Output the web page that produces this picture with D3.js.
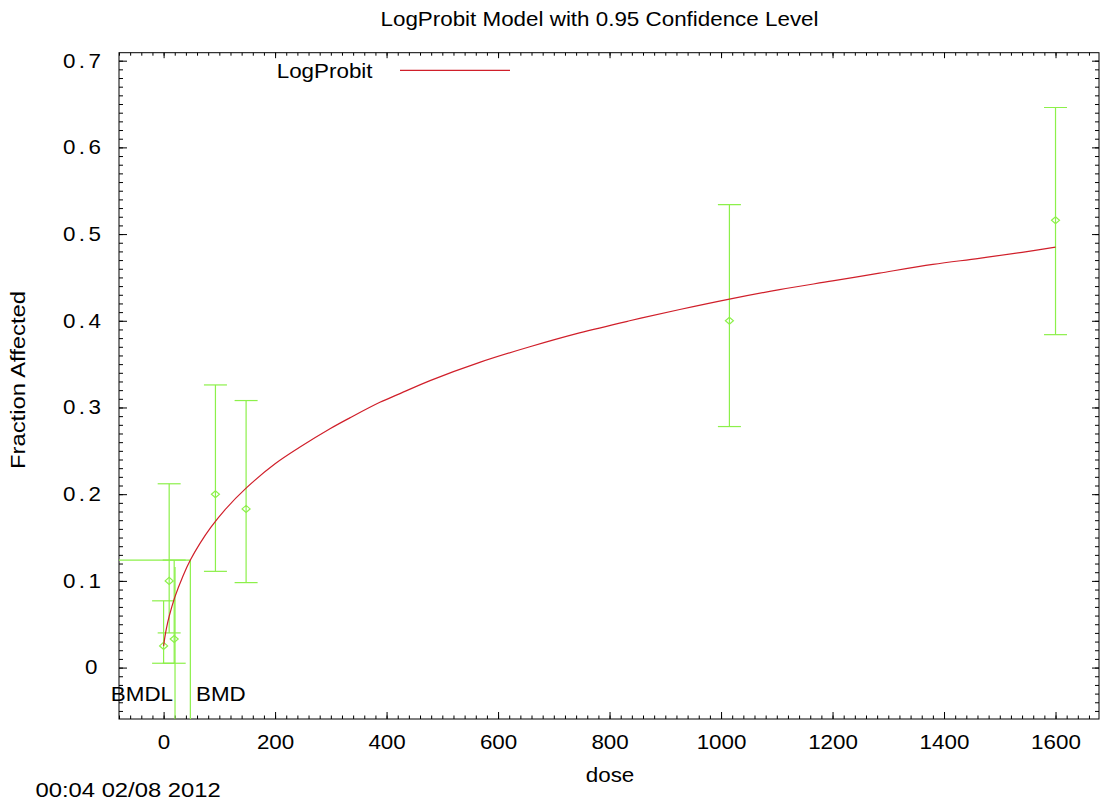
<!DOCTYPE html>
<html>
<head>
<meta charset="utf-8">
<script src="https://cdn.jsdelivr.net/npm/d3@7"></script>
<style>
  html, body { margin: 0; padding: 0; background: #fff; }
  svg { display: block; font-family: "Liberation Sans", Arial, sans-serif; }
</style>
</head>
<body>
<svg id="chart" width="1100" height="802"></svg>
<script>
// ---- data ----
const doses     = [0, 10, 19, 93, 148, 1015, 1600];
const fractions = [0.025, 0.1, 0.033, 0.2, 0.183, 0.4, 0.516];
const lowerCL   = [0.005, 0.04, 0.005, 0.111, 0.098, 0.278, 0.384];
const upperCL   = [0.077, 0.212, 0.124, 0.326, 0.308, 0.534, 0.646];

const curveDose = [0, 2, 5, 10, 20, 35, 48, 65, 85, 110, 148, 200, 244, 300, 334, 388, 424, 478, 567, 657, 746, 836, 926, 1015, 1105, 1200, 1284, 1380, 1463, 1540, 1600];
const curveFrac = [0.025, 0.034, 0.045, 0.059, 0.081, 0.106, 0.124, 0.143, 0.162, 0.182, 0.207, 0.235, 0.254, 0.276, 0.288, 0.306, 0.316, 0.331, 0.352, 0.370, 0.386, 0.400, 0.413, 0.425, 0.436, 0.446, 0.455, 0.465, 0.472, 0.479, 0.485];

const bmd = 48;
const bmdl = 20.5;
const bmrLevel = 0.124;
const bmdlTop = 0.116;

const xMajorTicks = [0, 200, 400, 600, 800, 1000, 1200, 1400, 1600];
const yMajorTicks = [0, 0.1, 0.2, 0.3, 0.4, 0.5, 0.6, 0.7];

const titleText = "LogProbit Model with 0.95 Confidence Level";
const xLabel = "dose";
const yLabel = "Fraction Affected";
const legendLabel = "LogProbit";
const stamp = "00:04 02/08 2012";

// ---- layout ----
const L = 119, R = 1099, T = 52.7, B = 719;
const SX = 1.12;
const FS = 20;
const red = "#d01f2a";
const green = "#8cf04a";

const svg = d3.select("#chart");
const x = d3.scaleLinear().domain([-80, 1678]).range([L, R]);
const y = d3.scaleLinear().domain([-0.0593, 0.7092]).range([B, T]);

const xMinor = d3.range(-80, 1680, 20).filter(v => v >= -80 && v <= 1678);
const yMinor = d3.range(-5, 71).map(v => v / 100);

function stretchText(sel) {
  sel.attr("transform", `scale(${SX},1)`);
}

svg.append("defs").append("clipPath").attr("id", "clip")
  .append("rect").attr("x", L).attr("y", T).attr("width", R - L).attr("height", B - T);

function tickAxis(axisFn, scale, vals, size, transform) {
  const g = svg.append("g").attr("transform", transform)
    .call(axisFn(scale).tickValues(vals).tickSize(size).tickFormat(""));
  g.select(".domain").remove();
  g.selectAll("line").attr("stroke", "#000").attr("stroke-width", 1);
  return g;
}
tickAxis(d3.axisBottom, x, xMinor, -3.5, `translate(0,${B})`);
tickAxis(d3.axisTop, x, xMinor, -3, `translate(0,${T})`);
tickAxis(d3.axisLeft, y, yMinor, -4, `translate(${L},0)`);
tickAxis(d3.axisRight, y, yMinor, -4, `translate(${R},0)`);
tickAxis(d3.axisTop, x, xMajorTicks, -5.5, `translate(0,${T})`);
tickAxis(d3.axisRight, y, yMajorTicks, -7, `translate(${R},0)`);

const xAxisG = svg.append("g").attr("transform", `translate(0,${B})`)
  .call(d3.axisBottom(x).tickValues(xMajorTicks).tickSize(-7).tickPadding(16).tickFormat(d3.format("d")));
xAxisG.select(".domain").remove();
xAxisG.selectAll("line").attr("stroke", "#000");
xAxisG.selectAll("text").attr("font-size", FS).attr("fill", "#000")
  .attr("font-family", "Liberation Sans, Arial, sans-serif").call(stretchText);

const yFmt = d => d === 0 ? "0" : d3.format(".1f")(d);
const yAxisG = svg.append("g").attr("transform", `translate(${L},0)`)
  .call(d3.axisLeft(y).tickValues(yMajorTicks).tickSize(-8).tickPadding(11).tickFormat(yFmt));
yAxisG.select(".domain").remove();
yAxisG.selectAll("line").attr("stroke", "#000");
yAxisG.selectAll("text").attr("font-size", FS).attr("fill", "#000")
  .attr("font-family", "Liberation Sans, Arial, sans-serif")
  .attr("text-anchor", "start")
  .attr("letter-spacing", 3)
  .attr("x", d => (96 - 11 * yFmt(d).length - L) / SX)
  .call(stretchText);

svg.append("rect").attr("x", L).attr("y", T).attr("width", R - L).attr("height", B - T)
  .attr("fill", "none").attr("stroke", "#000").attr("stroke-width", 1);

const plot = svg.append("g").attr("clip-path", "url(#clip)");

plot.append("line").attr("x1", L).attr("x2", x(bmd)).attr("y1", y(bmrLevel)).attr("y2", y(bmrLevel))
  .attr("stroke", green).attr("stroke-width", 1.2);
plot.append("line").attr("x1", x(bmd)).attr("x2", x(bmd)).attr("y1", y(bmrLevel)).attr("y2", B)
  .attr("stroke", green).attr("stroke-width", 1.2);
plot.append("line").attr("x1", x(bmdl)).attr("x2", x(bmdl)).attr("y1", y(bmdlTop)).attr("y2", B)
  .attr("stroke", green).attr("stroke-width", 1.2);

const pts = doses.map((d, i) => ({ d, f: fractions[i], lo: lowerCL[i], hi: upperCL[i] }));
const eb = plot.append("g").attr("stroke", green).attr("stroke-width", 1.2).attr("fill", "none");
pts.forEach(p => {
  const cx = x(p.d);
  eb.append("line").attr("x1", cx).attr("x2", cx).attr("y1", y(p.lo)).attr("y2", y(p.hi));
  eb.append("line").attr("x1", cx - 11.5).attr("x2", cx + 11.5).attr("y1", y(p.lo)).attr("y2", y(p.lo));
  eb.append("line").attr("x1", cx - 11.5).attr("x2", cx + 11.5).attr("y1", y(p.hi)).attr("y2", y(p.hi));
  const cy = y(p.f);
  eb.append("path").attr("d", `M${cx - 4},${cy}L${cx},${cy - 3.5}L${cx + 4},${cy}L${cx},${cy + 3.5}Z`);
});

const line = d3.line().x(d => x(d[0])).y(d => y(d[1])).curve(d3.curveCatmullRom.alpha(0.5));
plot.append("path").datum(curveDose.map((d, i) => [d, curveFrac[i]]))
  .attr("d", line).attr("fill", "none").attr("stroke", red).attr("stroke-width", 1.2);

function addText(tx, ty, str, anchor, size, sx) {
  return svg.append("text")
    .attr("transform", `translate(${tx},${ty}) scale(${sx || SX},1)`)
    .attr("text-anchor", anchor).attr("font-size", size || FS).attr("fill", "#000").text(str);
}
addText(599.5, 26, titleText, "middle");
addText(610, 781.5, xLabel, "middle");
addText(35.5, 797, stamp, "start", FS, 1.19);
addText(173, 701, "BMDL", "end");
addText(196, 701, "BMD", "start");

addText(276.7, 77.7, legendLabel, "start");
svg.append("line").attr("x1", 400).attr("x2", 510).attr("y1", 70.3).attr("y2", 70.3)
  .attr("stroke", red).attr("stroke-width", 1.2);

svg.append("text")
  .attr("transform", `translate(25,380) rotate(-90) scale(1.19,1.04)`)
  .attr("text-anchor", "middle").attr("font-size", FS).attr("fill", "#000").text(yLabel);
</script>
</body>
</html>
